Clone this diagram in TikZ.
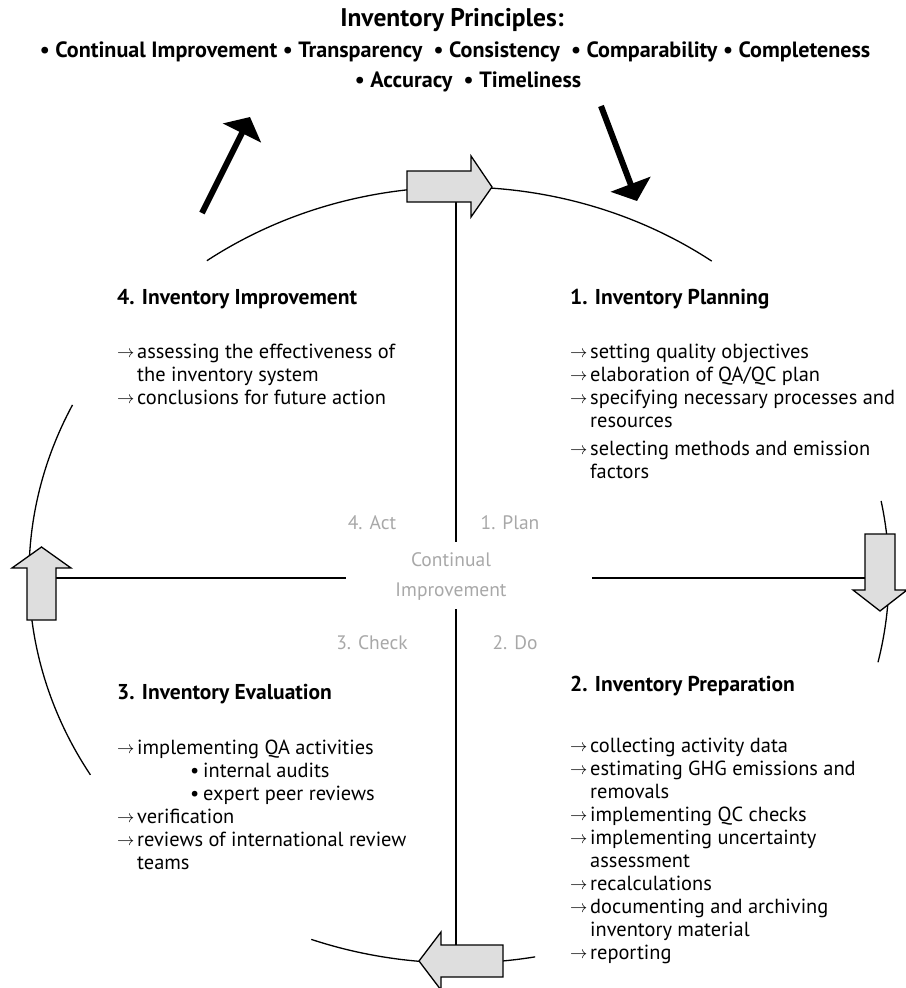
\documentclass[tikz,border=0pt]{standalone}
\usepackage{fontspec}
\setmainfont{PT Sans}
\usetikzlibrary{arrows.meta}
\definecolor{arrowfill}{HTML}{DEDEDE}
\definecolor{labgray}{HTML}{A8A8A8}
\newcommand\myar{\makebox[20pt][l]{\raisebox{0.5pt}{\fontsize{16}{16}\selectfont$\rightarrow$}}}
\newcommand\myind{\hspace*{20pt}}
\newcommand\mybul{\hspace*{73pt}\makebox[13pt][l]{•}}
\begin{document}
\begin{tikzpicture}[x=1pt,y=1pt,
  blockarrow/.style={draw=black, line width=1.3pt, fill=arrowfill, line join=miter},
  arcline/.style={line width=1.3pt},
  axisline/.style={line width=1.3pt},
  bigarrow/.style={line width=6pt, -{Triangle[length=18pt,width=42pt]}},
  headtext/.style={font=\fontsize{21.5}{25}\selectfont\bfseries, anchor=base west, inner sep=0},
  bodytext/.style={font=\fontsize{20.4}{23}\selectfont, anchor=base west, align=left, inner sep=0},
  graytext/.style={text=labgray, font=\fontsize{19.5}{30}\selectfont, align=center, inner sep=0},
  principle/.style={font=\fontsize{22.1}{25}\selectfont\bfseries, inner sep=0}
]
\useasboundingbox (0,0) rectangle (905,-988);
\coordinate (C) at (459,-575);
% arcs of the cycle
\draw[arcline] ([shift={(125.9:430 and 388)}]C) arc[start angle=125.9, end angle=54, x radius=430, y radius=388];
\draw[arcline] ([shift={(154:430 and 388)}]C) arc[start angle=154, end angle=211, x radius=430, y radius=388];
\draw[arcline] ([shift={(11:430 and 388)}]C) arc[start angle=11, end angle=-13, x radius=430, y radius=388];
\draw[arcline] ([shift={(249.9:430 and 388)}]C) arc[start angle=249.9, end angle=280.2, x radius=430, y radius=388];
% axis lines
\coordinate (vt1) at (456,-202);
\coordinate (vt2) at (456,-542);
\coordinate (vb1) at (456,-609);
\coordinate (vb2) at (456,-945);
\coordinate (hl1) at (56,-578);
\coordinate (hl2) at (346,-578);
\coordinate (hr1) at (592,-578);
\coordinate (hr2) at (865,-578);
\draw[axisline] (vt1) -- (vt2);
\draw[axisline] (vb1) -- (vb2);
\draw[axisline] (hl1) -- (hl2);
\draw[axisline] (hr1) -- (hr2);
% block arrows
\draw[blockarrow] (407,-171) -- (471,-171) -- (471,-156) -- (492,-187) -- (471,-217) -- (471,-202) -- (407,-202) -- cycle;
\draw[blockarrow] (865,-534) -- (895,-534) -- (895,-590) -- (907,-590) -- (880,-611) -- (853,-590) -- (865,-590) -- cycle;
\draw[blockarrow] (27,-620) -- (56,-620) -- (56,-568) -- (71,-568) -- (41.5,-547) -- (12,-568) -- (27,-568) -- cycle;
\draw[blockarrow] (503,-945) -- (503,-977) -- (441,-977) -- (441,-990) -- (419,-961) -- (441,-932) -- (441,-945) -- cycle;
% big black arrows
\coordinate (ba1) at (202,-213);
\coordinate (ba2) at (250,-117);
\coordinate (bb1) at (601,-106);
\coordinate (bb2) at (637,-201);
\draw[bigarrow] (ba1) -- (ba2);
\draw[bigarrow] (bb1) -- (bb2);
% principles
\node[principle, font=\fontsize{25.5}{28}\selectfont\bfseries] (ptitle) at (452,-20) {Inventory Principles:};
\node[principle] (pline1) at (455,-52) {• Continual Improvement • Transparency \ • Consistency \ • Comparability • Completeness};
\node[principle] (pline2) at (468,-82) {• Accuracy \ • Timeliness};
% gray labels
\node[graytext] (act) at (372,-523) {4. Act};
\node[graytext] (plan) at (510,-523) {1. Plan};
\node[graytext] (ci) at (451,-577) {Continual\\Improvement};
\node[graytext] (check) at (372,-643) {3. Check};
\node[graytext] (do) at (515,-643) {2. Do};
% headings
\node[headtext] (h4) at (117,-304) {4. Inventory Improvement};
\node[headtext] (h1) at (570,-304) {1. Inventory Planning};
\node[headtext] (h3) at (117,-699) {3. Inventory Evaluation};
\node[headtext] (h2) at (570,-691) {2. Inventory Preparation};
% lists (anchored at the baseline of their last line)
\node[bodytext] (l4) at (117,-404) {\myar assessing the effectiveness of\\\myind the inventory system\\\myar conclusions for future action};
\node[bodytext] (l1) at (570,-478) {\myar setting quality objectives\\\myar elaboration of QA/QC plan\\\myar specifying necessary processes and\\\myind resources\\[5pt]\myar selecting methods and emission\\\myind factors};
\node[bodytext] (l3) at (117,-869) {\myar implementing QA activities\\\mybul internal audits\\\mybul expert peer reviews\\\myar verification\\\myar reviews of international review\\\myind teams};
\node[bodytext] (l2) at (570,-959) {\myar collecting activity data\\\myar estimating GHG emissions and\\\myind removals\\\myar implementing QC checks\\\myar implementing uncertainty\\\myind assessment\\\myar recalculations\\\myar documenting and archiving\\\myind inventory material\\\myar reporting};
\end{tikzpicture}
\end{document}
